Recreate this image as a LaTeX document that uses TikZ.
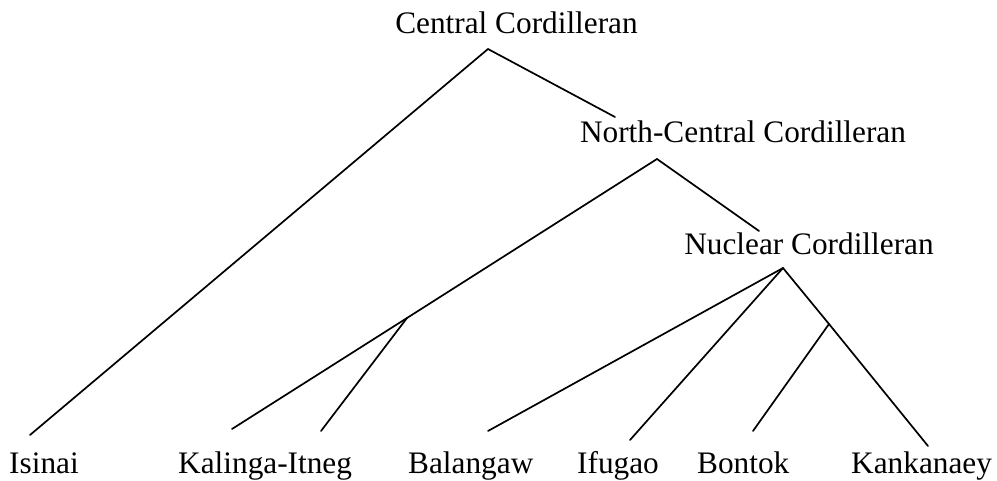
\documentclass[tikz,border=0pt]{standalone}
\usepackage{fontspec}
\setmainfont{Liberation Serif}
\begin{document}
\begin{tikzpicture}[x=1pt,y=-1pt,
  lbl/.style={inner sep=0pt,anchor=base,font=\fontsize{31.3}{36}\selectfont},
  leaf/.style={inner sep=0pt,anchor=base west,font=\fontsize{31.3}{36}\selectfont},
  branch/.style={line width=1.7pt,line cap=round}]
\useasboundingbox (0,0) rectangle (997,481);
% labels
\node[lbl] (cc) at (516.5,34) {Central Cordilleran};
\node[lbl] (ncc) at (743,143) {North-Central Cordilleran};
\node[lbl] (nuc) at (809,255) {Nuclear Cordilleran};
\node[leaf] (isi) at (9,473) {Isinai};
\node[leaf] (kal) at (178,473) {Kalinga-Itneg};
\node[leaf] (bal) at (408,473) {Balangaw};
\node[leaf] (ifu) at (577,473) {Ifugao};
\node[leaf] (bon) at (697,473) {Bontok};
\node[leaf] (kan) at (851,473) {Kankanaey};
% branch points
\coordinate (a1) at (488,49);
\coordinate (a2) at (657,159);
\coordinate (a3) at (783,268);
\coordinate (j1) at (407,318);
\coordinate (j2) at (829,324);
% ends
\coordinate (e12) at (615,117);
\coordinate (e23) at (759,231);
\coordinate (eisi) at (30,435);
\coordinate (ekal) at (232,429);
\coordinate (eitn) at (321,431);
\coordinate (ebal) at (488,431);
\coordinate (eifu) at (630,440);
\coordinate (ebon) at (753,431);
\coordinate (ekan) at (928,446);
% connectors
\draw[branch] (eisi) -- (a1) -- (e12);
\draw[branch] (ekal) -- (j1) -- (a2) -- (e23);
\draw[branch] (j1) -- (eitn);
\draw[branch] (ebal) -- (a3) -- (j2) -- (ekan);
\draw[branch] (a3) -- (eifu);
\draw[branch] (j2) -- (ebon);
\end{tikzpicture}
\end{document}
